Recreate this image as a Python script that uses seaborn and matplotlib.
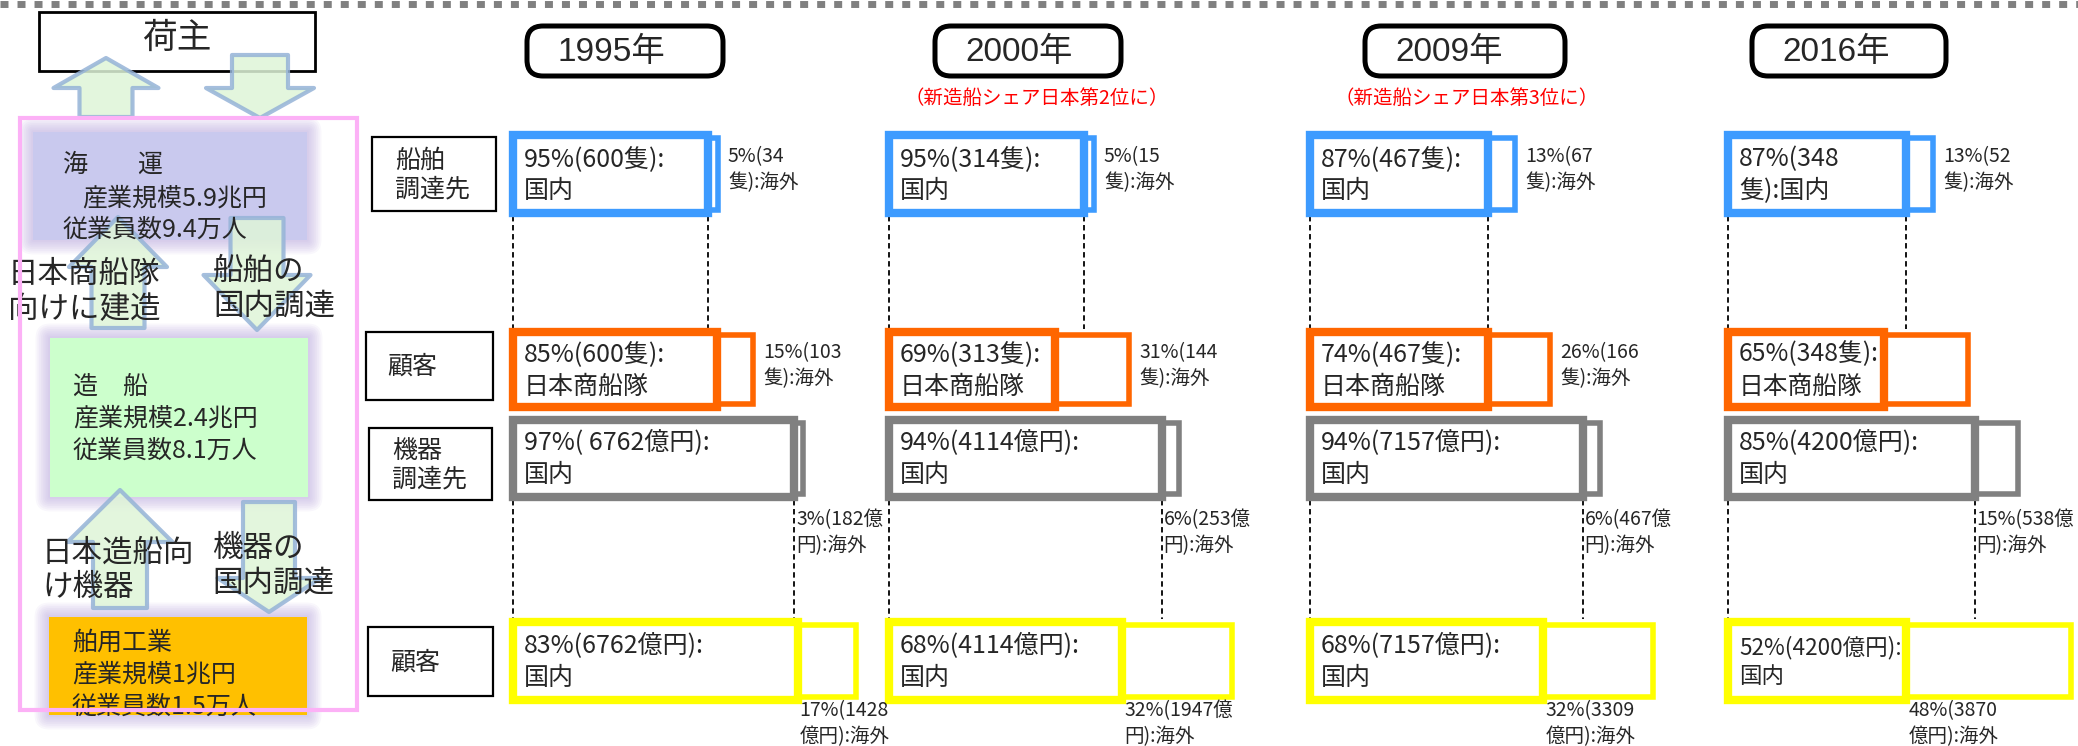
import numpy as np
import matplotlib
matplotlib.use("Agg")
import matplotlib.pyplot as plt
from matplotlib.patches import Rectangle, Polygon, FancyBboxPatch
import seaborn as sns

sns.set_theme(style="white")
plt.rcParams["font.family"] = ["Noto Sans CJK JP", "DejaVu Sans"]

# ---- data ----
years = ["1995年", "2000年", "2009年", "2016年"]
rank_notes = ["", "（新造船シェア日本第2位に）", "（新造船シェア日本第3位に）", ""]

# ship procurement (domestic / overseas share, %)
ship_dom_pct = [95, 95, 87, 87]
ship_ovs_pct = [5, 5, 13, 13]
ship_labels = ["95%(600隻):\n国内", "95%(314隻):\n国内", "87%(467隻):\n国内", "87%(348\n隻):国内"]
ship_ovs_labels = ["5%(34\n隻):海外", "5%(15\n隻):海外", "13%(67\n隻):海外", "13%(52\n隻):海外"]

# shipbuilding customers
fleet_pct = [85, 69, 74, 65]
fleet_ovs_pct = [15, 31, 26, 35]
fleet_labels = ["85%(600隻):\n日本商船隊", "69%(313隻):\n日本商船隊", "74%(467隻):\n日本商船隊", "65%(348隻):\n日本商船隊"]
fleet_ovs_labels = ["15%(103\n隻):海外", "31%(144\n隻):海外", "26%(166\n隻):海外", ""]

# equipment procurement
equip_dom_pct = [97, 94, 94, 85]
equip_ovs_pct = [3, 6, 6, 15]
equip_labels = ["97%( 6762億円):\n国内", "94%(4114億円):\n国内", "94%(7157億円):\n国内", "85%(4200億円):\n国内"]
equip_ovs_labels = ["3%(182億\n円):海外", "6%(253億\n円):海外", "6%(467億\n円):海外", "15%(538億\n円):海外"]

# marine equipment customers
cust_pct = [83, 68, 68, 52]
cust_ovs_pct = [17, 32, 32, 48]
cust_labels = ["83%(6762億円):\n国内", "68%(4114億円):\n国内", "68%(7157億円):\n国内", "52%(4200億円):\n国内"]
cust_ovs_labels = ["17%(1428\n億円):海外", "32%(1947億\n円):海外", "32%(3309\n億円):海外", "48%(3870\n億円):海外"]

# ---- layout ----
col_x0 = np.array([513, 889, 1310, 1728])
pill_x = [527, 935, 1365, 1752]
pill_w = [196, 186, 200, 194]

fig = plt.figure(figsize=(20.78, 7.46), dpi=100)
ax = fig.add_axes([0, 0, 1, 1])
ax.set_xlim(0, 2078)
ax.set_ylim(746, 0)
ax.axis("off")
renderer = fig.canvas.get_renderer()


def fit_text(t, avail):
    w = t.get_window_extent(renderer=renderer).width
    if w > avail:
        t.set_fontsize(t.get_fontsize() * avail / w)


# dotted band at the top
ax.plot([0, 2078], [3.5, 3.5], color="#808080", lw=5, linestyle=(0, (1.15, 1.3)),
        dash_capstyle="butt", zorder=1)

# ---- left panel ----
def glow_box(x, y, w, h, fc):
    for i in range(8, 0, -1):
        p = i * 1.8
        ax.add_patch(FancyBboxPatch((x - p, y - p), w + 2 * p, h + 2 * p,
                                    boxstyle="round,pad=0,rounding_size=%.1f" % p,
                                    fc="#b39ddb", ec="none", alpha=0.08, zorder=1))
    ax.add_patch(Rectangle((x, y), w, h, fc=fc, ec="none", zorder=2))


def block_arrow(cx, y_tail, y_tip, shaft_w, head_w, head_len, z=3):
    d = np.sign(y_tip - y_tail)
    yb = y_tip - d * head_len
    pts = [(cx - shaft_w / 2, y_tail), (cx - shaft_w / 2, yb), (cx - head_w / 2, yb),
           (cx, y_tip), (cx + head_w / 2, yb), (cx + shaft_w / 2, yb), (cx + shaft_w / 2, y_tail)]
    ax.add_patch(Polygon(pts, closed=True, fc="#dff5d8", ec="#95b3d7", lw=3,
                         joinstyle="round", alpha=0.85, zorder=z))


ax.add_patch(Rectangle((39, 12), 276, 59, fc="white", ec="black", lw=2, zorder=2))
ax.text(177, 38, "荷主", fontsize=25, ha="center", va="center", zorder=5)

glow_box(33, 132, 274, 108, "#c9c9ee")
glow_box(50, 338, 258, 159, "#ccffcc")
glow_box(49, 617, 258, 98, "#ffc000")

block_arrow(106, 117, 58, 53, 105, 30)
block_arrow(260, 55, 118, 56, 108, 30)
block_arrow(118, 328, 217, 53, 98, 50)
block_arrow(257, 218, 330, 53, 107, 55)
block_arrow(120, 608, 490, 54, 105, 52)
block_arrow(269, 502, 612, 52, 103, 34)

left_texts = [
    (63, 165, "海　　運"), (82, 198, "産業規模5.9兆円"), (63, 230, "従業員数9.4万人"),
    (73, 387, "造　船"), (73, 419, "産業規模2.4兆円"), (73, 451, "従業員数8.1万人"),
    (72, 643, "舶用工業"), (72, 675, "産業規模1兆円"), (72, 707, "従業員数1.5万人"),
]
for x, y, s in left_texts:
    ax.text(x, y, s, fontsize=18, va="center", zorder=5)

flow_texts = [
    (8, 292, "日本商船隊\n向けに建造"), (213, 289, "船舶の\n国内調達"),
    (42, 570, "日本造船向\nけ機器"), (212, 566, "機器の\n国内調達"),
]
for x, y, s in flow_texts:
    ax.text(x, y, s, fontsize=22, va="center", linespacing=1.15, zorder=5)

ax.add_patch(Rectangle((20, 118), 337, 592, fc="none", ec="#fcb1f6", lw=3, zorder=6))

# row label boxes
row_boxes = [
    (372, 137, 124, 74, 395, "船舶\n調達先"),
    (366, 332, 127, 68, 387, "顧客"),
    (369, 428, 123, 72, 392, "機器\n調達先"),
    (368, 627, 125, 69, 390, "顧客"),
]
for x, y, w, h, tx, s in row_boxes:
    ax.add_patch(Rectangle((x, y), w, h, fc="white", ec="black", lw=1.6, zorder=2))
    ax.text(tx, y + h / 2 + 1, s, fontsize=18, va="center", linespacing=1.1, zorder=5)

# year pills and notes
for i, yr in enumerate(years):
    ax.add_patch(FancyBboxPatch((pill_x[i], 26), pill_w[i], 50,
                                boxstyle="round,pad=0,rounding_size=16",
                                fc="white", ec="black", lw=3.6, zorder=3))
    ax.text(pill_x[i] + 84, 52, yr, fontsize=24, ha="center", va="center",
            family=["Liberation Sans", "Noto Sans CJK JP"], zorder=5)
    if rank_notes[i]:
        ax.text(pill_x[i] + 102, 98, rank_notes[i], fontsize=14, color="red",
                ha="center", va="center", zorder=5)

# ---- share boxes ----
rows = [
    dict(top=135, h=78, color="#3d9bff", full=205, dom=ship_dom_pct, ovs=ship_ovs_pct,
         lab=ship_labels, olab=ship_ovs_labels, where="right"),
    dict(top=332, h=75, color="#ff6600", full=240, dom=fleet_pct, ovs=fleet_ovs_pct,
         lab=fleet_labels, olab=fleet_ovs_labels, where="right"),
    dict(top=420, h=77, color="#808080", full=290, dom=equip_dom_pct, ovs=equip_ovs_pct,
         lab=equip_labels, olab=equip_ovs_labels, where="below", dy=12),
    dict(top=622, h=78, color="#ffff00", full=343, dom=cust_pct, ovs=cust_ovs_pct,
         lab=cust_labels, olab=cust_ovs_labels, where="below", dy=0),
]

for r in rows:
    dom_w = np.array(r["dom"]) / 100 * r["full"]
    ovs_w = np.array(r["ovs"]) / 100 * r["full"]
    yc = np.full(4, r["top"] + r["h"] / 2)
    r["dom_w"] = dom_w
    ax.barh(yc, ovs_w, left=col_x0 + dom_w, height=r["h"] - 6, color="white",
            edgecolor=r["color"], linewidth=4, zorder=3)
    ax.barh(yc, dom_w, left=col_x0, height=r["h"], color="white",
            edgecolor=r["color"], linewidth=6, zorder=4)
    for i in range(4):
        t = ax.text(col_x0[i] + 11, yc[i] + 1, r["lab"][i], fontsize=18, va="center",
                    linespacing=1.3, zorder=6)
        fit_text(t, dom_w[i] - 16)
        if not r["olab"][i]:
            continue
        if r["where"] == "right":
            ax.text(col_x0[i] + dom_w[i] + ovs_w[i] + 10, yc[i] - 4, r["olab"][i],
                    fontsize=14, va="center", linespacing=1.3, zorder=6)
        else:
            ax.text(col_x0[i] + dom_w[i] + 2, r["top"] + r["h"] + r["dy"], r["olab"][i],
                    fontsize=14, va="top", linespacing=1.3, zorder=6)

# dashed connectors between paired rows
for up, lo in [(rows[0], rows[1]), (rows[2], rows[3])]:
    for i in range(4):
        for x in (col_x0[i], col_x0[i] + up["dom_w"][i]):
            ax.plot([x, x], [up["top"] + up["h"] + 3, lo["top"] - 3], color="black",
                    lw=1.3, linestyle=(0, (3, 2)), zorder=2)

fig.savefig("out.png", dpi=100)
